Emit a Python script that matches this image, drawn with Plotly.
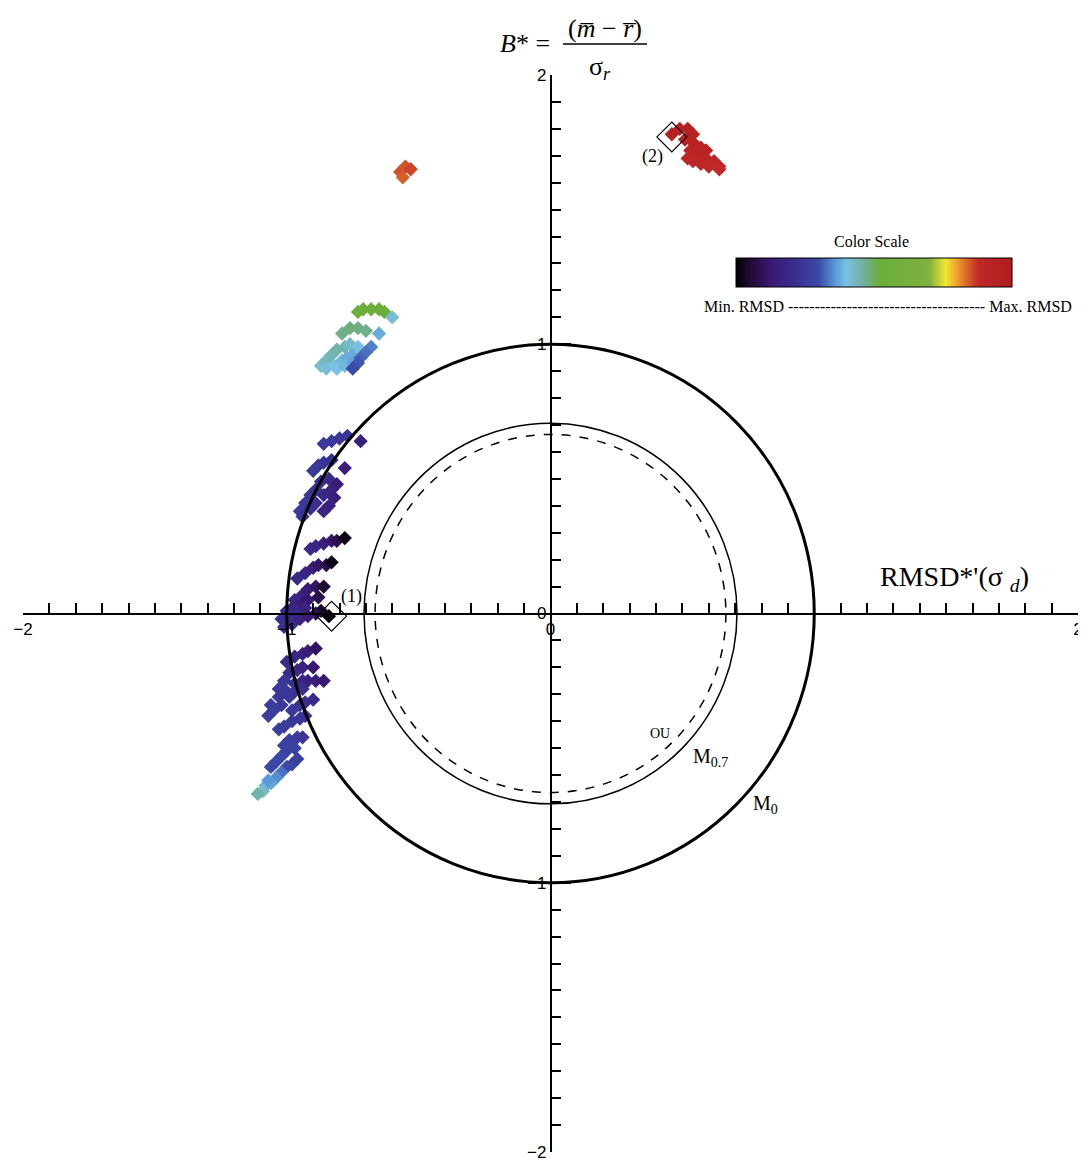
import plotly.graph_objects as go

# ---------------- data (normalized target-diagram coordinates) ----------------
red_x = [0.46, 0.49, 0.52, 0.54, 0.51, 0.54, 0.57, 0.59, 0.53, 0.56, 0.59, 0.62, 0.64, 0.57, 0.60, 0.64, 0.52, 0.54]
red_y = [1.78, 1.80, 1.80, 1.78, 1.76, 1.75, 1.73, 1.72, 1.72, 1.70, 1.69, 1.68, 1.66, 1.67, 1.66, 1.65, 1.69, 1.68]
red_rmsd = [0.95, 0.95, 0.96, 0.95, 0.94, 0.94, 0.93, 0.93, 0.92, 0.92, 0.91, 0.90, 0.89, 0.90, 0.89, 0.88, 0.91, 0.90]

orange_x = [-0.57, -0.55, -0.53, -0.56]
orange_y = [1.64, 1.66, 1.65, 1.62]
orange_rmsd = [0.85, 0.85, 0.86, 0.84]

upper_x = [-0.73, -0.71, -0.68, -0.65, -0.63, -0.60,
           -0.79, -0.76, -0.73, -0.70, -0.65,
           -0.87, -0.85, -0.83, -0.81, -0.78, -0.76, -0.85, -0.82, -0.79, -0.77, -0.74,
           -0.81, -0.78, -0.75, -0.73,
           -0.68, -0.70, -0.72, -0.73, -0.75]
upper_y = [1.12, 1.13, 1.13, 1.13, 1.12, 1.10,
           1.04, 1.06, 1.06, 1.05, 1.04,
           0.92, 0.94, 0.96, 0.98, 0.99, 1.00, 0.91, 0.92, 0.94, 0.95, 0.97,
           0.91, 0.92, 0.93, 0.99,
           0.99, 0.97, 0.95, 0.93, 0.91]
upper_rmsd = [0.53, 0.54, 0.55, 0.55, 0.54, 0.41,
              0.47, 0.48, 0.48, 0.47, 0.38,
              0.42, 0.43, 0.44, 0.45, 0.44, 0.42, 0.41, 0.40, 0.39, 0.38, 0.38,
              0.40, 0.39, 0.37, 0.40,
              0.34, 0.33, 0.32, 0.31, 0.30]

mid_x = [-0.86, -0.83, -0.80, -0.77, -0.72,
         -0.90, -0.88, -0.86, -0.83, -0.78,
         -0.95, -0.93, -0.91, -0.89, -0.87, -0.84, -0.94, -0.91, -0.89, -0.86, -0.83, -0.81, -0.84, -0.86, -0.82,
         -0.91, -0.89, -0.86, -0.83, -0.81, -0.78,
         -0.96, -0.93, -0.90, -0.88, -0.85, -0.83,
         -0.97, -0.94, -0.92, -0.89, -0.86,
         -1.00, -0.97, -0.94, -0.92, -0.88, -0.84, -0.87, -0.89]
mid_y = [0.63, 0.64, 0.65, 0.66, 0.64,
         0.53, 0.55, 0.56, 0.57, 0.54,
         0.38, 0.41, 0.44, 0.46, 0.49, 0.50, 0.36, 0.39, 0.41, 0.44, 0.46, 0.48, 0.40, 0.38, 0.43,
         0.24, 0.25, 0.26, 0.27, 0.27, 0.28,
         0.13, 0.15, 0.17, 0.18, 0.18, 0.19,
         0.05, 0.07, 0.09, 0.10, 0.10,
         0.01, 0.03, 0.04, 0.05, 0.06, -0.01, 0.01, 0.00]
mid_rmsd = [0.25, 0.25, 0.24, 0.24, 0.16,
            0.25, 0.25, 0.24, 0.23, 0.15,
            0.26, 0.25, 0.24, 0.23, 0.22, 0.20, 0.24, 0.22, 0.21, 0.19, 0.18, 0.14, 0.17, 0.18, 0.16,
            0.20, 0.18, 0.16, 0.12, 0.08, 0.02,
            0.20, 0.18, 0.15, 0.11, 0.07, 0.02,
            0.19, 0.17, 0.14, 0.10, 0.05,
            0.20, 0.18, 0.15, 0.12, 0.08, 0.01, 0.04, 0.08]

low_x = [-1.02, -0.99, -0.96, -0.93, -1.01, -0.98, -0.95, -0.92,
         -1.00, -0.97, -0.94, -0.92, -0.89,
         -0.99, -0.96, -0.94, -0.90,
         -0.97, -0.94, -0.92, -0.89, -0.86,
         -1.07, -1.05, -1.02, -0.99, -0.97, -0.94, -1.06, -1.03, -1.00, -1.03, -1.01, -0.98, -0.95, -0.93, -0.90,
         -1.03, -1.01, -0.98, -0.95, -0.93,
         -1.01, -0.99, -0.96, -0.94,
         -1.06, -1.04, -1.02, -1.00, -0.97, -0.98, -0.96, -1.00,
         -1.02, -1.04, -1.06, -1.08, -1.09, -1.11, -1.07]
low_y = [-0.02, -0.01, 0.00, 0.02, -0.05, -0.04, -0.02, -0.01,
         -0.18, -0.16, -0.15, -0.14, -0.13,
         -0.22, -0.21, -0.20, -0.20,
         -0.26, -0.25, -0.25, -0.25, -0.25,
         -0.38, -0.36, -0.34, -0.31, -0.29, -0.28, -0.34, -0.31, -0.29, -0.28, -0.25, -0.36, -0.34, -0.33, -0.32,
         -0.43, -0.42, -0.40, -0.39, -0.38,
         -0.49, -0.47, -0.46, -0.46,
         -0.57, -0.55, -0.53, -0.51, -0.50, -0.56, -0.54, -0.57,
         -0.59, -0.61, -0.63, -0.64, -0.66, -0.67, -0.62]
low_rmsd = [0.22, 0.21, 0.19, 0.17, 0.22, 0.20, 0.17, 0.14,
            0.20, 0.19, 0.17, 0.15, 0.10,
            0.21, 0.19, 0.17, 0.13,
            0.21, 0.19, 0.17, 0.15, 0.13,
            0.26, 0.26, 0.25, 0.24, 0.23, 0.22, 0.26, 0.25, 0.24, 0.25, 0.24, 0.25, 0.24, 0.22, 0.20,
            0.27, 0.26, 0.25, 0.24, 0.22,
            0.28, 0.27, 0.26, 0.24,
            0.30, 0.29, 0.29, 0.28, 0.27, 0.28, 0.27, 0.29,
            0.33, 0.35, 0.37, 0.38, 0.42, 0.45, 0.36]

# highlighted cases (1) and (2)
case_x = [-0.83, 0.46]
case_y = [-0.01, 1.77]
case_labels = ["(1)", "(2)"]

# reference circles
r_m0 = 1.0
r_m07 = 0.707
r_ou = 0.665

x_tickvals = [-2, -1, 0, 2]
x_ticktext = ["\u22122", "\u22121", "0", "2"]
y_tickvals = [-2, -1, 0, 1, 2]
y_ticktext = ["\u22122", "\u22121", "0", "1", "2"]

colorscale = [
    [0.00, "#000000"], [0.04, "#1a0a2a"], [0.12, "#3a1670"], [0.22, "#3a2f90"],
    [0.30, "#3a4aa8"], [0.36, "#5a9ad8"], [0.40, "#7ac0e0"], [0.46, "#70b0a0"],
    [0.52, "#6aae3a"], [0.70, "#80b040"], [0.76, "#f0e830"], [0.80, "#f0a030"],
    [0.84, "#d86028"], [0.88, "#c0282a"], [1.00, "#b01c1c"],
]

SERIF = "Liberation Serif"
SANS = "Liberation Sans"

fig = go.Figure()
for xs, ys, cs in [(upper_x, upper_y, upper_rmsd), (mid_x, mid_y, mid_rmsd), (low_x, low_y, low_rmsd),
                   (orange_x, orange_y, orange_rmsd), (red_x, red_y, red_rmsd)]:
    fig.add_trace(go.Scatter(
        x=xs, y=ys, mode="markers",
        marker=dict(symbol="diamond", size=11, color=cs, coloraxis="coloraxis", line=dict(width=0)),
        showlegend=False, hoverinfo="skip"))

fig.add_trace(go.Scatter(
    x=case_x, y=case_y, mode="markers",
    marker=dict(symbol="diamond-open", size=23, color="black", line=dict(width=1.2, color="black")),
    showlegend=False, hoverinfo="skip"))

# circles
for r, w, dash in [(r_m0, 3, "solid"), (r_m07, 1.5, "solid"), (r_ou, 1.5, "dash")]:
    fig.add_shape(type="circle", xref="x", yref="y", x0=-r, y0=-r, x1=r, y1=r,
                  line=dict(color="black", width=w, dash=dash))

# fraction bar of the B* label (paper coordinates, above the plot area)
fig.add_shape(type="line", xref="paper", yref="paper", x0=0.5118, x1=0.5915, y0=1.0288, y1=1.0288,
              line=dict(color="black", width=1.5))

ann = []
def add(text, x, y, size, xanchor="center", font=SERIF, ref="x"):
    xr, yr = ("x", "y") if ref == "x" else ("paper", "paper")
    ann.append(dict(text=text, x=x, y=y, xref=xr, yref=yr, showarrow=False,
                    xanchor=xanchor, yanchor="middle", font=dict(family=font, size=size, color="black")))

add("<i>B</i>* =", 0.4758, 1.0288, 26, ref="paper")
add("(<i>m\u0305</i> \u2212 <i>r\u0305</i>)", 0.5517, 1.0436, 26, ref="paper")
add("\u03c3<sub><i>r</i></sub>", 0.547, 1.0065, 26, ref="paper")
add("RMSD*'(\u03c3 <sub><i>d</i></sub>)", 1.53, 0.13, 28)
add(case_labels[0], -0.753, 0.065, 18)
add(case_labels[1], 0.385, 1.696, 18)
add("OU", 0.417, -0.444, 14)
add("M<sub>0.7</sub>", 0.532, -0.533, 20, xanchor="left")
add("M<sub>0</sub>", 0.76, -0.711, 20, xanchor="left")
add("Color Scale", 1.217, 1.380, 16)
add("Min. RMSD ------------------------------------- Max. RMSD", 1.28, 1.142, 16)

axis_common = dict(
    range=[-2, 2], anchor="free", position=0.5, automargin=False,
    showgrid=False, zeroline=False, showline=True, linecolor="black", linewidth=1.5,
    tickmode="array", ticks="inside", ticklen=20, tickwidth=1.5, tickcolor="black",
    ticklabeloverflow="allow",
    tickfont=dict(family=SANS, size=17, color="black"),
    minor=dict(tickmode="linear", tick0=0, dtick=0.1, ticks="inside", ticklen=10,
               tickwidth=1.5, tickcolor="black", showgrid=False),
)

# the page body adds an 8 px margin, so the figure is 8 px smaller and shifted
fig.update_layout(
    width=1078, height=1154,
    margin=dict(l=15, r=8, t=67, b=10, autoexpand=False),
    paper_bgcolor="white", plot_bgcolor="white",
    annotations=ann,
    coloraxis=dict(
        colorscale=colorscale, cmin=0, cmax=1,
        colorbar=dict(orientation="h", x=0.8066, xanchor="center", y=0.8157, yanchor="middle",
                      len=0.2616, lenmode="fraction", thickness=29, thicknessmode="pixels",
                      outlinewidth=1, outlinecolor="black", showticklabels=False, ticks="",
                      xpad=0, ypad=0),
    ),
    xaxis=dict(axis_common, side="bottom", tickvals=x_tickvals, ticktext=x_ticktext),
    yaxis=dict(axis_common, side="left", tickvals=y_tickvals, ticktext=y_ticktext),
)

fig.write_html("out.html")
